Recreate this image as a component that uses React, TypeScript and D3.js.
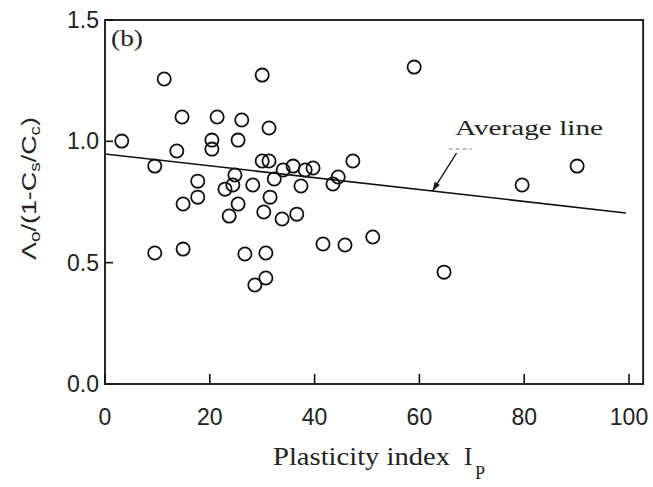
import React from "react";
import * as d3 from "d3";

// Data (Plasticity index Ip, Λo/(1-Cs/Cc))
const plasticityIndex = [
  11.3, 30.0, 59.0, 14.7, 21.4, 26.1, 31.3, 3.2, 20.4, 20.4,
  25.4, 13.7, 9.5, 30.0, 31.3, 47.3, 17.7, 17.7, 14.9, 24.8,
  24.4, 22.9, 28.2, 32.3, 34.0, 35.9, 38.2, 39.7, 37.4, 44.5,
  43.5, 31.5, 25.4, 30.3, 23.7, 33.8, 36.6, 90.1, 79.6, 9.5,
  14.9, 26.7, 30.7, 30.7, 28.6, 41.6, 45.8, 51.1, 64.7,
];
const ratioValues = [
  1.257, 1.273, 1.306, 1.1, 1.1, 1.088, 1.055, 1.001, 1.005, 0.968,
  1.005, 0.96, 0.898, 0.919, 0.919, 0.919, 0.836, 0.77, 0.742, 0.861,
  0.82, 0.803, 0.82, 0.845, 0.882, 0.898, 0.882, 0.89, 0.816, 0.853,
  0.824, 0.77, 0.742, 0.709, 0.692, 0.68, 0.7, 0.898, 0.82, 0.54,
  0.556, 0.536, 0.54, 0.437, 0.408, 0.577, 0.573, 0.606, 0.461,
];
const averageLineX = [0, 99.4];
const averageLineY = [0.948, 0.705];
const xTicks = [0, 20, 40, 60, 80, 100];
const yTicks = [0.0, 0.5, 1.0, 1.5];
const yTickLabels = ["0.0", "0.5", "1.0", "1.5"];
const arrowAtIp = 62.5;

const W = 653;
const H = 487;

export default function App() {
  const x = d3.scaleLinear().domain([0, 100]).range([105, 629]);
  const y = d3.scaleLinear().domain([0, 1.5]).range([384, 20]);
  const xMax = 102.7;

  const avg = d3.scaleLinear().domain(averageLineX).range(averageLineY);
  const lineGen = d3
    .line<number>()
    .x((d) => x(d))
    .y((d) => y(avg(d)));

  const tipX = x(arrowAtIp);
  const tipY = y(avg(arrowAtIp));
  const tailX = tipX + 24;
  const tailY = tipY - 38;
  const ang = Math.atan2(tipY - tailY, tipX - tailX);
  const ah = 9;
  const aw = 3;
  const headPts = [
    [tipX, tipY],
    [tipX - ah * Math.cos(ang) + aw * Math.sin(ang), tipY - ah * Math.sin(ang) - aw * Math.cos(ang)],
    [tipX - ah * Math.cos(ang) - aw * Math.sin(ang), tipY - ah * Math.sin(ang) + aw * Math.cos(ang)],
  ]
    .map((p) => p.join(","))
    .join(" ");

  const sans = "'Liberation Sans', Arial, sans-serif";
  const serif = "'Liberation Serif', 'Times New Roman', serif";

  return (
    <svg
      width={W}
      height={H}
      viewBox={`0 0 ${W} ${H}`}
      style={{ position: "absolute", left: 0, top: 0, background: "#fff" }}
    >
      <rect x={0} y={0} width={W} height={H} fill="#fff" />
      {/* frame */}
      <rect
        x={x(0)}
        y={y(1.5)}
        width={x(xMax) - x(0)}
        height={y(0) - y(1.5)}
        fill="none"
        stroke="#111"
        strokeWidth={1.8}
      />
      {/* x ticks */}
      {xTicks.map((t) => (
        <g key={"xt" + t}>
          <line x1={x(t)} x2={x(t)} y1={y(0)} y2={y(0) - 10} stroke="#111" strokeWidth={1.6} />
          <text x={x(t)} y={425} textAnchor="middle" fontFamily={sans} fontSize={23} fill="#222">
            {t}
          </text>
        </g>
      ))}
      {/* y ticks */}
      {yTicks.map((t, i) => (
        <g key={"yt" + t}>
          <line x1={x(0)} x2={x(0) + 8} y1={y(t)} y2={y(t)} stroke="#111" strokeWidth={1.6} />
          <text x={99} y={y(t) + 8} textAnchor="end" fontFamily={sans} fontSize={23} fill="#222">
            {yTickLabels[i]}
          </text>
        </g>
      ))}
      {/* average line */}
      <path d={lineGen(averageLineX) || ""} fill="none" stroke="#111" strokeWidth={1.6} />
      {/* arrow */}
      <line x1={tailX} y1={tailY} x2={tipX} y2={tipY} stroke="#111" strokeWidth={1.3} />
      <polygon points={headPts} fill="#111" />
      <line
        x1={tailX - 8}
        x2={tailX + 15}
        y1={tailY - 4}
        y2={tailY - 4}
        stroke="#777"
        strokeWidth={1}
        strokeDasharray="4,3"
      />
      <text
        x={455}
        y={135}
        fontFamily={serif}
        fontSize={22}
        fill="#222"
        textLength={148}
        lengthAdjust="spacingAndGlyphs"
      >
        Average  line
      </text>
      {/* points */}
      {plasticityIndex.map((ip, i) => (
        <circle
          key={"p" + i}
          cx={x(ip)}
          cy={y(ratioValues[i])}
          r={6.6}
          fill="none"
          stroke="#111"
          strokeWidth={1.8}
        />
      ))}
      {/* panel label */}
      <text
        x={111}
        y={46}
        fontFamily={serif}
        fontSize={23}
        fill="#222"
        textLength={32}
        lengthAdjust="spacingAndGlyphs"
      >
        (b)
      </text>
      {/* x axis title */}
      <text
        x={273}
        y={465}
        fontFamily={serif}
        fontSize={25}
        fill="#222"
        textLength={177}
        lengthAdjust="spacingAndGlyphs"
      >
        Plasticity index
      </text>
      <text x={464} y={465} fontFamily={serif} fontSize={25} fill="#222">
        I
      </text>
      <text x={475} y={479} fontFamily={serif} fontSize={18} fill="#222">
        P
      </text>
      {/* y axis title */}
      <text
        transform="translate(36,260) rotate(-90)"
        x={0}
        y={0}
        fontFamily={sans}
        fontSize={20}
        fill="#222"
        textLength={143}
        lengthAdjust="spacingAndGlyphs"
      >
        Λ
        <tspan fontSize={14} dy={4}>o</tspan>
        <tspan dy={-4}>/(1-C</tspan>
        <tspan fontSize={14} dy={4}>s</tspan>
        <tspan dy={-4}>/C</tspan>
        <tspan fontSize={14} dy={4}>c</tspan>
        <tspan dy={-4}>)</tspan>
      </text>
    </svg>
  );
}
